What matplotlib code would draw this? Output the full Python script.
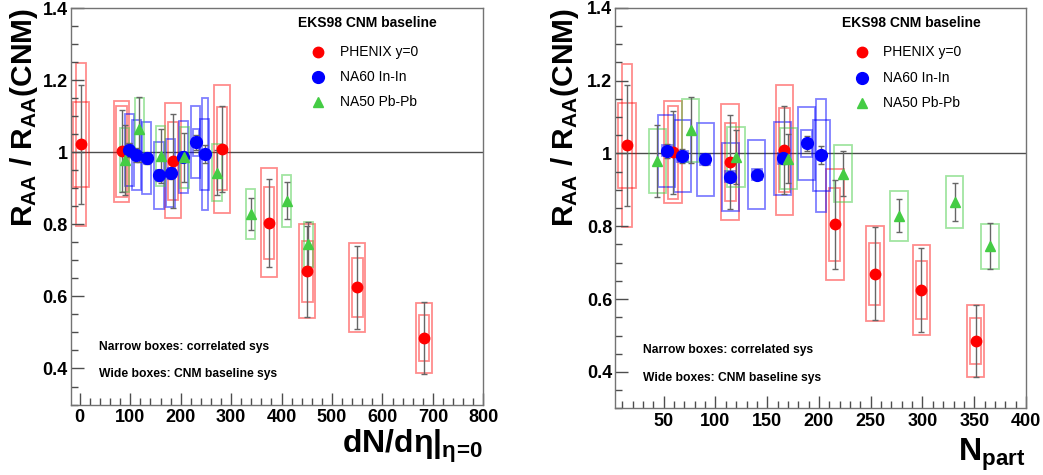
import numpy as np
import matplotlib
matplotlib.use('Agg')
import matplotlib.pyplot as plt
from matplotlib.patches import Rectangle

plt.rcParams['font.family'] = ['Liberation Sans', 'DejaVu Sans']
plt.rcParams['mathtext.fontset'] = 'custom'
plt.rcParams['mathtext.rm'] = 'Liberation Sans:bold'
plt.rcParams['mathtext.bf'] = 'Liberation Sans:bold'
plt.rcParams['mathtext.it'] = 'Liberation Sans:bold'
plt.rcParams['mathtext.default'] = 'bf'

# PHENIX y=0
phx_npart = [14.5, 59.0, 114.2, 166.6, 215.3, 253.9, 299.0, 351.4]
phx_dndeta = [2, 83, 185, 282, 375, 451, 550, 682]
phx_r = [1.022, 1.003, 0.977, 1.010, 0.805, 0.670, 0.625, 0.485]
phx_stat = [0.165, 0.114, 0.130, 0.120, 0.122, 0.127, 0.115, 0.100]
phx_corr = [0.225, 0.127, 0.108, 0.115, 0.100, 0.085, 0.081, 0.064]
phx_cnm = [0.118, 0.140, 0.160, 0.178, 0.152, 0.130, 0.124, 0.098]

# NA60 In-In
na60_npart = [53, 68, 90, 114.5, 140, 165, 188, 202]
na60_dndeta = [98, 112, 133, 157, 180, 205, 230, 248]
na60_r = [1.007, 0.993, 0.984, 0.936, 0.942, 0.987, 1.028, 0.995]
na60_stat = [0.02, 0.02, 0.015, 0.015, 0.015, 0.015, 0.02, 0.025]
na60_corr = [0.015, 0.015, 0.015, 0.015, 0.015, 0.015, 0.037, 0.156]
na60_cnm = [0.100, 0.098, 0.100, 0.094, 0.094, 0.100, 0.100, 0.098]

# NA50 Pb-Pb
na50_npart = [44, 76, 120, 170.5, 223, 277.5, 331, 365.5]
na50_dndeta = [89, 118, 160, 207, 272, 339, 410, 453]
na50_r = [0.979, 1.064, 0.990, 0.986, 0.944, 0.829, 0.866, 0.745]
na50_stat = [0.098, 0.090, 0.075, 0.068, 0.062, 0.045, 0.052, 0.063]
na50_sys = [0.088, 0.086, 0.083, 0.084, 0.078, 0.069, 0.072, 0.062]

red, blue, green = '#ff0000', '#0000ff', '#44cc44'


def boxes(ax, x, y, half, width, color, alpha):
    for xi, yi, hi in zip(x, y, half):
        ax.add_patch(Rectangle((xi - width / 2, yi - hi), width, 2 * hi,
                               fill=False, edgecolor=color, lw=1.3, alpha=alpha))


def panel(ax, xkey, widths):
    ax.axhline(1.0, color='0.3', lw=1, zorder=1)
    # wide + narrow boxes
    boxes(ax, xkey[0], phx_r, phx_cnm, widths[0], red, 0.45)
    boxes(ax, xkey[0], phx_r, phx_corr, widths[1], red, 0.45)
    boxes(ax, xkey[1], na60_r, na60_cnm, widths[2], blue, 0.5)
    boxes(ax, xkey[1], na60_r, na60_corr, widths[3], blue, 0.5)
    boxes(ax, xkey[2], na50_r, na50_sys, widths[4], green, 0.5)
    for xs, ys, es in [(xkey[0], phx_r, phx_stat), (xkey[1], na60_r, na60_stat),
                       (xkey[2], na50_r, na50_stat)]:
        ax.errorbar(xs, ys, yerr=es, fmt='none', ecolor='0.4', elinewidth=1,
                    capsize=2, capthick=1, zorder=3)
    ax.plot(xkey[0], phx_r, 'o', color=red, ms=7.5, zorder=4)
    ax.plot(xkey[1], na60_r, 'o', color=blue, ms=8.5, zorder=4)
    ax.plot(xkey[2], na50_r, '^', color=green, ms=7.5, zorder=4)

    ax.set_ylim(0.3, 1.4)
    ax.set_yticks([0.4, 0.6, 0.8, 1.0, 1.2, 1.4])
    ax.set_yticklabels(['0.4', '0.6', '0.8', '1', '1.2', '1.4'])
    ax.set_yticks(np.arange(0.3, 1.41, 0.05), minor=True)
    ax.tick_params(direction='in', which='both', top=False, right=False,
                   labelsize=13, width=1, color='0.3')
    ax.tick_params(axis='y', pad=2)
    ax.tick_params(which='major', length=9)
    ax.tick_params(which='minor', length=5)
    for lab in ax.get_xticklabels() + ax.get_yticklabels():
        lab.set_fontweight('bold')
    for s in ax.spines.values():
        s.set_color('0.45')
        s.set_linewidth(1)

    # legend drawn by hand
    ax.text(0.72, 0.962, 'EKS98 CNM baseline', transform=ax.transAxes,
            ha='center', va='center', fontsize=10, fontweight='bold')
    rows = [(0.889, 'o', red, 7.5, 'PHENIX y=0'), (0.826, 'o', blue, 8.5, 'NA60 In-In'),
            (0.763, '^', green, 7.5, 'NA50 Pb-Pb')]
    for yy, m, c, ms, lab in rows:
        ax.plot([0.60], [yy], m, color=c, ms=ms, transform=ax.transAxes, clip_on=False)
        ax.text(0.652, yy, lab, transform=ax.transAxes, ha='left', va='center',
                fontsize=10)
    ax.text(0.068, 0.145, 'Narrow boxes: correlated sys', transform=ax.transAxes,
            fontsize=8.7, fontweight='bold', va='center')
    ax.text(0.068, 0.076, 'Wide boxes: CNM baseline sys', transform=ax.transAxes,
            fontsize=8.7, fontweight='bold', va='center')


fig = plt.figure(figsize=(10.43, 4.75), dpi=100)
ax1 = fig.add_axes([0.0678, 0.1484, 0.3956, 0.834])
ax2 = fig.add_axes([0.5897, 0.1404, 0.394, 0.843])

panel(ax1, [phx_dndeta, na60_dndeta, na50_dndeta], [31, 21, 18, 11, 18])
ax1.set_xlim(-18, 800)
ax1.set_xticks(np.arange(0, 801, 100))
ax1.set_xticks(np.arange(0, 801, 20), minor=True)
for lab in ax1.get_xticklabels():
    lab.set_fontweight('bold')

panel(ax2, [phx_npart, na60_npart, na50_npart], [17, 10.5, 16.5, 10, 17])
ax2.set_xlim(3, 400)
ax2.set_xticks(np.arange(50, 401, 50))
ax2.set_xticks(np.arange(10, 401, 10), minor=True)
for lab in ax2.get_xticklabels():
    lab.set_fontweight('bold')

ylab = r'R$_{AA}$ / R$_{AA}$(CNM)'
fig.text(24 / 1043, 1 - 8 / 475, ylab, rotation=90, ha='center', va='top',
         fontsize=21.5, fontweight='bold')
fig.text(565 / 1043, 1 - 8 / 475, ylab, rotation=90, ha='center', va='top',
         fontsize=21.5, fontweight='bold')
fig.text(483 / 1043, 1 - 453 / 475, r'dN/d$\eta|_{\eta\!=\!0}$', ha='right',
         va='baseline', fontsize=23, fontweight='bold')
fig.text(1025 / 1043, 1 - 461 / 475, r'N$_{part}$', ha='right',
         va='baseline', fontsize=23, fontweight='bold')

fig.savefig('out.png', dpi=100)
